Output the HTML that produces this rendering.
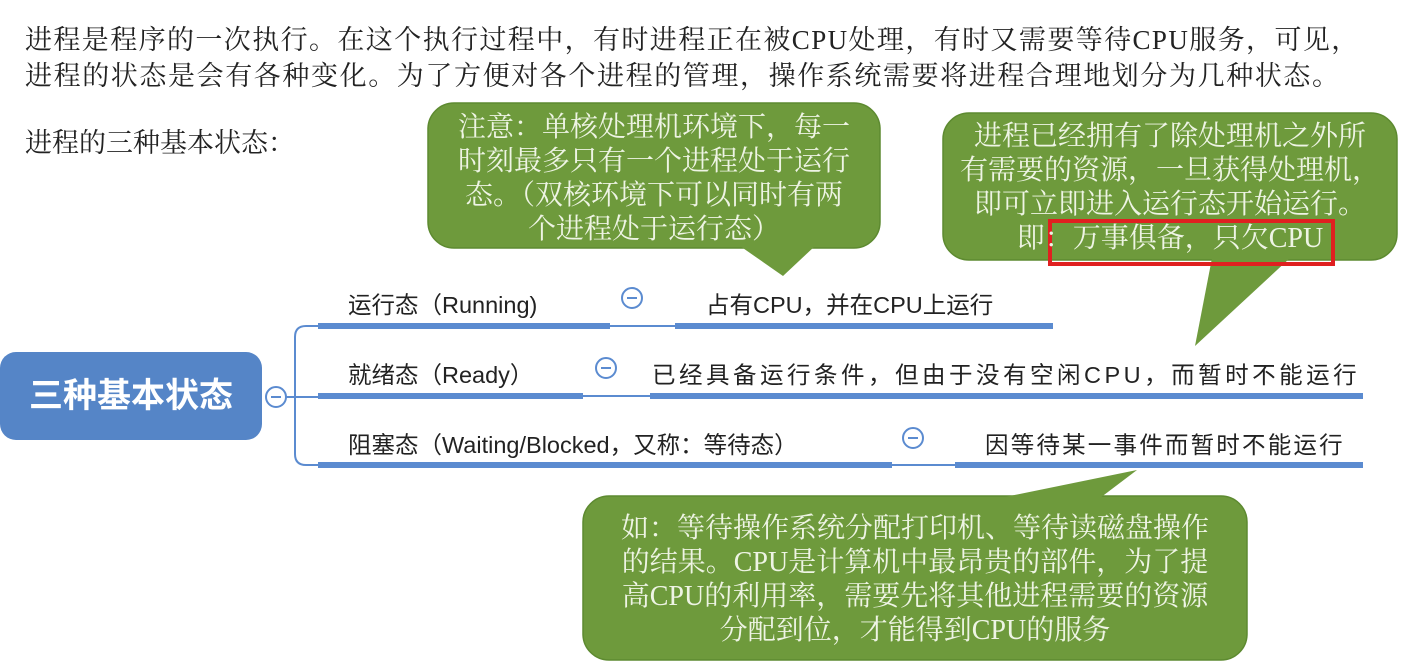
<!DOCTYPE html>
<html><head><meta charset="utf-8"><style>
body{margin:0;width:1408px;height:670px;background:#fff;position:relative;overflow:hidden;font-family:"Liberation Sans","Noto Sans CJK SC",sans-serif;}
.t{position:absolute;white-space:nowrap;}
.top{font-family:"Liberation Serif","Noto Serif CJK SC",serif;font-size:27px;color:#222;left:25px;}
.lbl{font-size:23.5px;color:#222;}
.c{font-family:"Liberation Serif","Noto Serif CJK SC",serif;font-size:28px;color:#eef4e4;text-align:center;line-height:34px;}
</style></head><body>
<div class="t top" style="top:18px;letter-spacing:1.4px">进程是程序的一次执行。在这个执行过程中，有时进程正在被CPU处理，有时又需要等待CPU服务，可见，</div>
<div class="t top" style="top:54px;letter-spacing:1.6px">进程的状态是会有各种变化。为了方便对各个进程的管理，操作系统需要将进程合理地划分为几种状态。</div>
<div class="t top" style="top:121px;font-size:27px">进程的三种基本状态：</div>

<svg width="1408" height="670" style="position:absolute;left:0;top:0">
 <g fill="#6e9a3c" stroke="#5d8a30" stroke-width="1.5">
  <rect x="428" y="103" width="452" height="145" rx="26"/>
  <polygon points="740,246 815,246 783,276" stroke="none"/>
  <rect x="943" y="113" width="454" height="147" rx="26"/>
  <polygon points="1212,258 1290,258 1195,346" stroke="none"/>
  <rect x="583" y="496" width="664" height="164" rx="26"/>
  <polygon points="1000,498 1100,498 1137,470" stroke="none"/>
 </g>
 <rect x="1050" y="221" width="283" height="43" fill="none" stroke="#e02020" stroke-width="4"/>
 <rect x="0" y="352" width="262" height="88" rx="16" fill="#5585c7"/>
 <g fill="none" stroke="#5b8bd0">
  <path d="M285,397 H295 M318,326 H306 Q295,326 295,337 V454 Q295,465 306,465 H318" stroke-width="2"/>
  <line x1="295" y1="397" x2="318" y2="397" stroke-width="2"/>
  <line x1="318" y1="326" x2="610" y2="326" stroke-width="6"/>
  <line x1="610" y1="326" x2="675" y2="326" stroke-width="2"/>
  <line x1="675" y1="326" x2="1053" y2="326" stroke-width="6"/>
  <line x1="318" y1="396" x2="583" y2="396" stroke-width="6"/>
  <line x1="583" y1="396" x2="650" y2="396" stroke-width="2"/>
  <line x1="650" y1="396" x2="1363" y2="396" stroke-width="6"/>
  <line x1="318" y1="465" x2="892" y2="465" stroke-width="6"/>
  <line x1="892" y1="465" x2="955" y2="465" stroke-width="2"/>
  <line x1="955" y1="465" x2="1363" y2="465" stroke-width="6"/>
 </g>
 <g fill="#fff" stroke="#5b8bd0" stroke-width="2">
  <circle cx="276" cy="397" r="10"/><circle cx="632" cy="298" r="10"/>
  <circle cx="606" cy="368" r="10"/><circle cx="913" cy="438" r="10"/>
 </g>
 <g stroke="#5b8bd0" stroke-width="2">
  <line x1="271" y1="397" x2="281" y2="397"/><line x1="627" y1="298" x2="637" y2="298"/>
  <line x1="601" y1="368" x2="611" y2="368"/><line x1="908" y1="438" x2="918" y2="438"/>
 </g>
</svg>

<div class="t" style="left:0;top:352px;width:262px;height:88px;line-height:88px;text-align:center;color:#fff;font-size:34px;font-weight:bold">三种基本状态</div>
<div class="t lbl" style="left:348px;top:286px">运行态（Running)</div>
<div class="t lbl" style="left:706px;top:286px">占有CPU，并在CPU上运行</div>
<div class="t lbl" style="left:348px;top:356px">就绪态（Ready）</div>
<div class="t lbl" style="left:652px;top:356px;letter-spacing:3.5px">已经具备运行条件，但由于没有空闲CPU，而暂时不能运行</div>
<div class="t lbl" style="left:348px;top:426px">阻塞态（Waiting/Blocked，又称：等待态）</div>
<div class="t lbl" style="left:985px;top:426px;letter-spacing:2.2px">因等待某一事件而暂时不能运行</div>

<div class="t c" style="left:428px;top:111px;width:452px">注意：单核处理机环境下，每一<br>时刻最多只有一个进程处于运行<br>态。（双核环境下可以同时有两<br>个进程处于运行态）</div>
<div class="t c" style="left:943px;top:120px;width:454px">进程已经拥有了除处理机之外所<br>有需要的资源，一旦获得处理机，<br>即可立即进入运行态开始运行。<br>即：万事俱备，只欠CPU</div>
<div class="t c" style="left:583px;top:512px;width:664px">如：等待操作系统分配打印机、等待读磁盘操作<br>的结果。CPU是计算机中最昂贵的部件，为了提<br>高CPU的利用率，需要先将其他进程需要的资源<br>分配到位，才能得到CPU的服务</div>
</body></html>
